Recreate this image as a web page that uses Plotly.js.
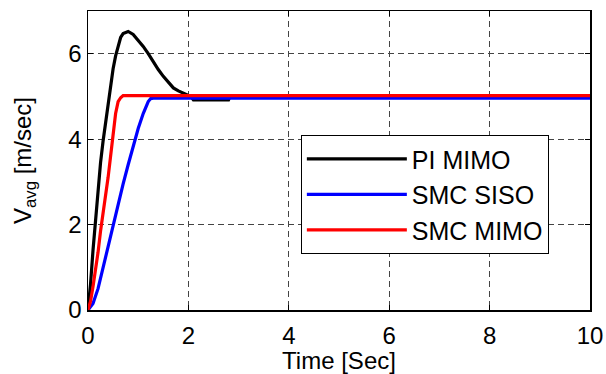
<!DOCTYPE html>
<html>
<head>
<meta charset="utf-8">
<script src="https://cdn.plot.ly/plotly-3.0.1.min.js"></script>
<style>html,body{margin:0;padding:0;background:#fff;}#chart{width:606px;height:374px;}</style>
</head>
<body>
<div id="chart"></div>
<script>
// PI MIMO
const piT = [0, 0.05, 0.1, 0.15, 0.2, 0.25, 0.3, 0.35, 0.4, 0.45, 0.5, 0.55, 0.6, 0.65, 0.7, 0.8, 0.9, 1.0, 1.1, 1.2, 1.3, 1.4, 1.5, 1.6, 1.7, 1.8, 1.9, 2.0, 2.05, 2.1, 2.8, 2.83, 10];
const piV = [0, 0.6, 1.4, 2.1, 2.8, 3.45, 3.95, 4.4, 4.85, 5.25, 5.65, 5.95, 6.2, 6.38, 6.47, 6.52, 6.45, 6.32, 6.17, 6.0, 5.8, 5.63, 5.47, 5.32, 5.2, 5.13, 5.07, 5.03, 5.0, 4.92, 4.92, 5.0, 5.0];
// SMC SISO
const sisoT = [0, 0.1, 0.2, 0.3, 0.4, 0.5, 0.6, 0.7, 0.8, 0.9, 1.0, 1.1, 1.2, 1.25, 1.3, 10];
const sisoV = [0, 0.15, 0.5, 1.0, 1.5, 2.0, 2.5, 2.95, 3.4, 3.85, 4.25, 4.6, 4.88, 4.95, 4.96, 4.96];
// SMC MIMO
const mimoT = [0, 0.05, 0.1, 0.15, 0.2, 0.25, 0.3, 0.35, 0.4, 0.45, 0.5, 0.55, 0.6, 0.65, 0.7, 10];
const mimoV = [0, 0.2, 0.55, 0.9, 1.35, 1.85, 2.25, 2.65, 3.1, 3.6, 4.1, 4.6, 4.88, 4.97, 5.02, 5.02];

const xTicks = [0, 2, 4, 6, 8, 10];
const yTicks = [0, 2, 4, 6];

const FONT = 'Liberation Sans, Arial, sans-serif';

const traces = [
  {x: piT, y: piV, name: 'PI MIMO', mode: 'lines', line: {color: '#000000', width: 3.2}, legendgroup: 'a'},
  {x: sisoT, y: sisoV, name: 'SMC SISO', mode: 'lines', line: {color: '#0000ff', width: 3.2}, legendgroup: 'b'},
  {x: mimoT, y: mimoV, name: 'SMC MIMO', mode: 'lines', line: {color: '#ff0000', width: 3.2}, legendgroup: 'c'}
];

const axisCommon = {
  showline: true, linecolor: '#000', linewidth: 1.5, mirror: 'ticks',
  ticks: 'inside', ticklen: 5, tickcolor: '#000', tickwidth: 1,
  showgrid: true, gridcolor: '#444', griddash: '6px,4px', gridwidth: 1,
  zeroline: false, tickfont: {family: FONT, size: 24, color: '#000'}
};

const layout = {
  width: 606, height: 374,
  margin: {l: 88, r: 16, t: 11, b: 64},
  paper_bgcolor: '#fff', plot_bgcolor: '#fff',
  font: {family: FONT, color: '#000'},
  xaxis: Object.assign({}, axisCommon, {
    range: [0, 10], tickvals: xTicks, ticktext: xTicks.map(String),
    ticklabelstandoff: 4,
    title: {text: 'Time [Sec]', font: {size: 24, family: FONT}, standoff: 4}
  }),
  yaxis: Object.assign({}, axisCommon, {
    range: [0, 7], tickvals: yTicks, ticktext: yTicks.map(String),
    title: {text: 'V<sub>avg</sub> [m/sec]', font: {size: 24, family: FONT}, standoff: 30}
  }),
  showlegend: true,
  legend: {
    x: 0.424, y: 0.585, xanchor: 'left', yanchor: 'top',
    bgcolor: '#fff', bordercolor: '#000', borderwidth: 1,
    font: {size: 25, family: FONT},
    itemwidth: 100, tracegroupgap: 7, traceorder: 'normal'
  }
};

Plotly.newPlot('chart', traces, layout, {displayModeBar: false, staticPlot: true});
</script>
</body>
</html>
